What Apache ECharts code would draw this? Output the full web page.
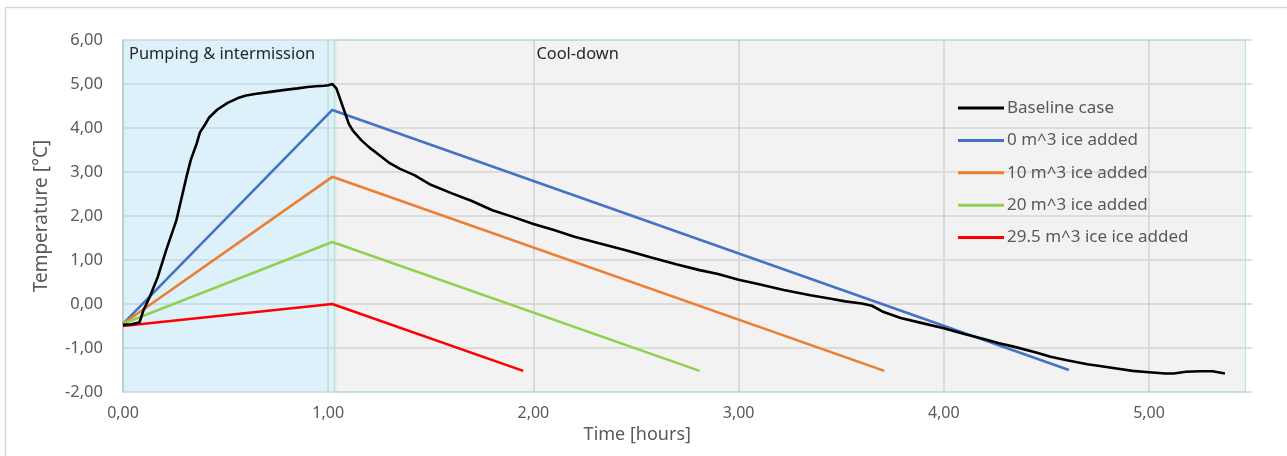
<!DOCTYPE html>
<html>
<head>
<meta charset="utf-8">
<script src="https://cdn.jsdelivr.net/npm/echarts@6/dist/echarts.min.js"></script>
<style>
html,body{margin:0;padding:0;background:#fff;}
#chart{width:1287px;height:456px;}
</style>
</head>
<body>
<div id="chart"></div>
<script>
// ---- data (x = time in hours, y = temperature in °C) ----
const seriesNames = ['Baseline case', '0 m^3 ice added', '10 m^3 ice added', '20 m^3 ice added', '29.5 m^3 ice ice added'];

const baseline = [
  [0,-0.47],[0.04,-0.46],[0.08,-0.42],[0.1,-0.14],[0.13,0.16],[0.17,0.62],[0.21,1.22],[0.26,1.9],
  [0.28,2.3],[0.31,2.9],[0.33,3.27],[0.36,3.66],[0.375,3.9],[0.4,4.08],[0.42,4.24],[0.46,4.42],
  [0.51,4.57],[0.56,4.68],[0.6,4.74],[0.65,4.78],[0.7,4.81],[0.78,4.86],[0.85,4.9],[0.9,4.93],
  [0.94,4.95],[0.98,4.96],[1.0,4.97],[1.02,5.0],[1.04,4.9],[1.07,4.5],[1.1,4.1],[1.12,3.94],
  [1.16,3.73],[1.2,3.56],[1.25,3.38],[1.3,3.2],[1.35,3.07],[1.42,2.93],[1.5,2.71],[1.6,2.52],
  [1.7,2.34],[1.8,2.13],[1.9,1.98],[2.0,1.82],[2.1,1.68],[2.2,1.53],[2.32,1.38],[2.45,1.22],
  [2.57,1.06],[2.7,0.9],[2.81,0.77],[2.9,0.68],[3.0,0.55],[3.1,0.45],[3.22,0.32],[3.35,0.2],
  [3.45,0.12],[3.52,0.06],[3.6,0.01],[3.65,-0.04],[3.7,-0.17],[3.79,-0.32],[3.9,-0.44],[4.0,-0.55],
  [4.1,-0.68],[4.2,-0.8],[4.27,-0.89],[4.35,-0.98],[4.45,-1.1],[4.52,-1.2],[4.6,-1.28],[4.7,-1.37],
  [4.76,-1.41],[4.85,-1.47],[4.92,-1.52],[5.0,-1.55],[5.08,-1.58],[5.12,-1.58],[5.18,-1.54],
  [5.25,-1.53],[5.31,-1.53],[5.37,-1.58]
];
const ice0   = [[0,-0.45],[1.02,4.41],[4.61,-1.5]];
const ice10  = [[0,-0.45],[1.02,2.89],[3.71,-1.52]];
const ice20  = [[0,-0.45],[1.02,1.41],[2.81,-1.52]];
const ice295 = [[0,-0.5],[1.02,0.0],[1.95,-1.52]];

const phases = [
  {name:'Pumping & intermission', from:0, to:1.04},
  {name:'Cool-down', from:1.03, to:5.47}
];
const coolLabelAt = 2.0;

const xTicks = [0,1,2,3,4,5];
const yTicks = [-2,-1,0,1,2,3,4,5,6];

const colors = ['#000000','#4472C4','#ED7D31','#92D050','#FF0000'];

const fmt = v => Number.isInteger(v) ? v.toFixed(2).replace('.', ',') : '';
const FONT = 'Noto Sans';

const chart = echarts.init(document.getElementById('chart'));
const mk = (name, data, i) => ({
  name, type:'line', data, showSymbol:false, symbol:'none',
  lineStyle:{color:colors[i], width:2.6},
  itemStyle:{color:colors[i]}, z:i===0?8:3, animation:false
});

chart.setOption({
  animation:false,
  textStyle:{fontFamily:FONT},
  graphic:[{type:'rect', shape:{x:5.5,y:7.5,width:1300,height:470}, style:{fill:'none', stroke:'#D9D9D9', lineWidth:1.5}, silent:true}],
  grid:{left:123, top:40, right:35.4, bottom:64},
  xAxis:{
    type:'value', min:0, max:5.5, interval:1,
    axisLine:{show:true, lineStyle:{color:'#D9D9D9', width:1.5}},
    axisTick:{show:false},
    axisLabel:{formatter:fmt, color:'#595959', fontSize:16, margin:13, showMaxLabel:false, fontFamily:FONT},
    splitLine:{show:true, showMaxLine:false, lineStyle:{color:'#D4D4D4', width:1.6}},
    name:'Time [hours]', nameLocation:'middle', nameGap:34,
    nameTextStyle:{color:'#595959', fontSize:18, padding:[0,100,0,0], fontFamily:FONT}
  },
  yAxis:{
    type:'value', min:yTicks[0], max:yTicks[yTicks.length-1], interval:1,
    axisLine:{show:true, lineStyle:{color:'#BFBFBF', width:1.5}},
    axisTick:{show:false},
    axisLabel:{formatter:fmt, color:'#595959', fontSize:16.5, margin:20, fontFamily:FONT},
    splitLine:{show:true, lineStyle:{color:'#D4D4D4', width:1.6}},
    name:'Temperature [°C]', nameLocation:'middle', nameGap:72,
    nameTextStyle:{color:'#595959', fontSize:19, fontFamily:FONT}
  },
  legend:{
    orient:'vertical', left:953, top:93, itemWidth:46, itemHeight:3, itemGap:12.4,
    icon:'rect',
    textStyle:{color:'#595959', fontSize:17, lineHeight:20, fontFamily:FONT, padding:[0,0,0,-2]},
    data:seriesNames
  },
  series:[
    {
      type:'line', data:[], silent:true, z:1,
      markArea:{
        silent:true,
        data:[
          [{xAxis:phases[0].from, yAxis:-2, itemStyle:{color:'rgba(180,225,245,0.45)', borderWidth:0},
            label:{show:true, position:'insideTopLeft', distance:6, offset:[0,0], formatter:phases[0].name, color:'#262626', fontSize:16.4, fontFamily:FONT}},
           {xAxis:phases[0].to, yAxis:6}],
          [{xAxis:phases[1].from, yAxis:-2, itemStyle:{color:'rgba(215,215,215,0.33)', borderColor:'rgba(150,225,175,0.6)', borderWidth:1.2},
            label:{show:false}},
           {xAxis:phases[1].to, yAxis:6}],
          [{xAxis:coolLabelAt, yAxis:-2, itemStyle:{color:'rgba(0,0,0,0)', borderWidth:0},
            label:{show:true, position:'insideTopLeft', distance:6, offset:[-3,0], formatter:phases[1].name, color:'#262626', fontSize:16.4, fontFamily:FONT}},
           {xAxis:coolLabelAt+0.5, yAxis:6}]
        ]
      }
    },
    mk(seriesNames[0], baseline, 0),
    mk(seriesNames[1], ice0, 1),
    mk(seriesNames[2], ice10, 2),
    mk(seriesNames[3], ice20, 3),
    mk(seriesNames[4], ice295, 4)
  ]
});
</script>
</body>
</html>
